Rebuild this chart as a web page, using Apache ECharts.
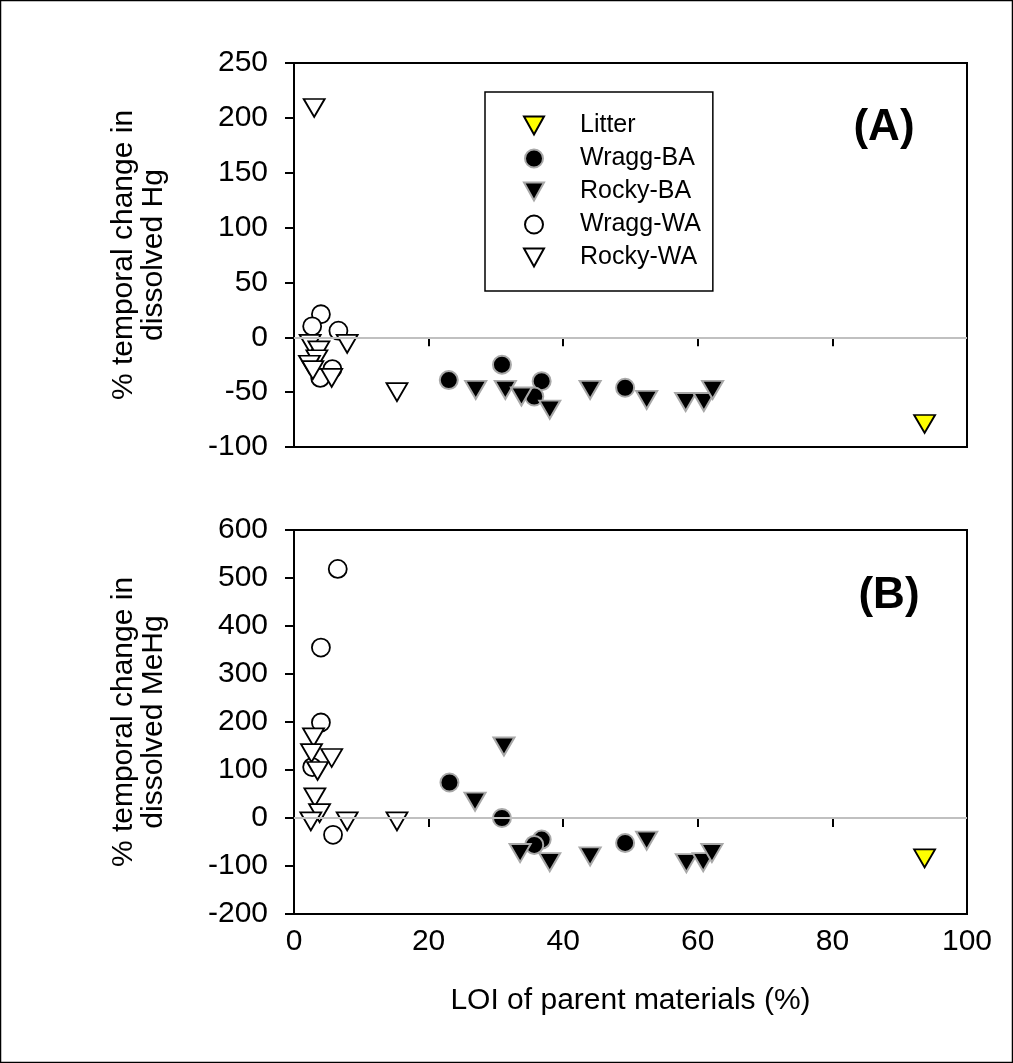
<!DOCTYPE html>
<html>
<head>
<meta charset="utf-8">
<script src="https://cdn.jsdelivr.net/npm/echarts@6/dist/echarts.min.js"></script>
<style>html,body{margin:0;padding:0;background:#fff;}#c{width:1013px;height:1063px;}</style>
</head>
<body>
<div id="c"></div>
<script>
// ---- data ----
const seriesNames = ['Litter', 'Wragg-BA', 'Rocky-BA', 'Wragg-WA', 'Rocky-WA'];
const xTicks = [0, 20, 40, 60, 80, 100];
const yTicksA = [-100, -50, 0, 50, 100, 150, 200, 250];
const yTicksB = [-200, -100, 0, 100, 200, 300, 400, 500, 600];

// Panel A: % temporal change in dissolved Hg  [LOI, change]
const litterA  = [[93.7, -79]];
const wraggBA_A = [[23, -39], [30.9, -25], [36.8, -40], [35.7, -54], [49.2, -46]];
const rockyBA_A = [[27, -48], [31.4, -48], [33.8, -54], [38, -66], [44, -48], [52.4, -57], [58.2, -59], [60.9, -59], [62.2, -48]];
const wraggWA_A = [[4, 21], [2.7, 10], [6.6, 6], [5.7, -29], [3.9, -37]];
const rockyWA_A = [[3, 209], [2.4, -6], [7.9, -6], [3.7, -12], [3.4, -20], [2.3, -25], [2.8, -30], [5.6, -37], [15.3, -50]];

// Panel B: % temporal change in dissolved MeHg
const litterB  = [[93.7, -84]];
const wraggBA_B = [[23.1, 74], [30.9, 0], [36.8, -45], [35.7, -56], [49.2, -52]];
const rockyBA_B = [[31.2, 149], [26.9, 34], [33.6, -73], [38, -92], [44, -80], [52.4, -47], [58.3, -94], [60.8, -92], [62.1, -73]];
const wraggWA_B = [[6.5, 519], [4, 355], [4, 199], [2.7, 106], [5.8, -35]];
const rockyWA_B = [[2.9, 168], [2.6, 135], [5.6, 125], [3.5, 98], [3.1, 43], [3.8, 10], [2.5, -7], [7.9, -7], [15.3, -7]];

// ---- styling ----
const FONT = '"Liberation Sans", Arial, sans-serif';
const DOWN_TRI = 'path://M0,0L20,0L10,18Z';
const styles = {
  'Litter':   {symbol: 'triangle', fill: '#ffff00', stroke: '#000', bw: 1.8},
  'Wragg-BA': {symbol: 'circle',   fill: '#000',    stroke: '#a8a8a8', bw: 2},
  'Rocky-BA': {symbol: 'triangle', fill: '#000',    stroke: '#a8a8a8', bw: 2},
  'Wragg-WA': {symbol: 'circle',   fill: '#fff',    stroke: '#000', bw: 1.8},
  'Rocky-WA': {symbol: 'triangle', fill: '#fff',    stroke: '#000', bw: 1.8}
};
function mk(name, data, idx) {
  const s = styles[name];
  const tri = s.symbol === 'triangle';
  return {
    type: 'scatter', name: name, xAxisIndex: idx, yAxisIndex: idx, data: data,
    symbol: s.symbol, symbolSize: tri ? [21, 18] : 18, symbolRotate: tri ? 180 : 0,
    itemStyle: {color: s.fill, borderColor: s.stroke, borderWidth: s.bw, opacity: 1},
    emphasis: {disabled: true}, z: 3
  };
}
function zeroLine(idx) {
  return {
    type: 'scatter', xAxisIndex: idx, yAxisIndex: idx, data: [], z: 1, silent: true,
    markLine: {silent: true, symbol: 'none', label: {show: false},
      lineStyle: {color: '#c0c0c0', width: 2, type: 'solid'}, data: [{yAxis: 0}]}
  };
}
function xAxis(idx, labels) {
  return {
    type: 'value', gridIndex: idx, min: xTicks[0], max: xTicks[xTicks.length - 1],
    interval: xTicks[1] - xTicks[0],
    axisLine: {lineStyle: {color: '#000', width: 2}},
    axisTick: {show: true, inside: false, length: 9, lineStyle: {color: '#000', width: 2}},
    axisLabel: {show: labels, color: '#000', fontSize: 30, fontFamily: FONT, margin: 13},
    splitLine: {show: false},
    name: labels ? 'LOI of parent materials (%)' : '', nameLocation: 'middle', nameGap: 72,
    nameTextStyle: {color: '#000', fontSize: 30, fontFamily: FONT}
  };
}
function yAxis(idx, ticks) {
  return {
    type: 'value', gridIndex: idx, min: ticks[0], max: ticks[ticks.length - 1],
    interval: ticks[1] - ticks[0],
    axisLine: {lineStyle: {color: '#000', width: 2}},
    axisTick: {show: true, inside: false, length: 9, lineStyle: {color: '#000', width: 2}},
    axisLabel: {color: '#000', fontSize: 30, fontFamily: FONT, margin: 26},
    splitLine: {show: false}
  };
}

const chart = echarts.init(document.getElementById('c'), null, {renderer: 'canvas'});
const series = [zeroLine(0), zeroLine(1),
  mk('Litter', litterA, 0), mk('Wragg-BA', wraggBA_A, 0), mk('Rocky-BA', rockyBA_A, 0),
  mk('Wragg-WA', wraggWA_A, 0), mk('Rocky-WA', rockyWA_A, 0),
  mk('Litter', litterB, 1), mk('Wragg-BA', wraggBA_B, 1), mk('Rocky-BA', rockyBA_B, 1),
  mk('Wragg-WA', wraggWA_B, 1), mk('Rocky-WA', rockyWA_B, 1)];

const legendData = seriesNames.map(n => styles[n].symbol === 'triangle'
  ? {name: n, icon: DOWN_TRI}
  : {name: n, icon: 'circle'});

chart.setOption({
  animation: false,
  backgroundColor: '#fff',
  grid: [
    {left: 294, top: 63, width: 673, height: 384, show: true, borderColor: '#000', borderWidth: 2, backgroundColor: 'transparent'},
    {left: 294, top: 530, width: 673, height: 384, show: true, borderColor: '#000', borderWidth: 2, backgroundColor: 'transparent'}
  ],
  xAxis: [xAxis(0, false), xAxis(1, true)],
  yAxis: [yAxis(0, yTicksA), yAxis(1, yTicksB)],
  legend: {
    data: legendData, orient: 'vertical', left: 485, top: 92,
    padding: [17, 12, 17, 38], itemGap: 0, itemWidth: 20, itemHeight: 18,
    borderColor: '#000', borderWidth: 1.5, backgroundColor: '#fff',
    textStyle: {color: '#000', fontSize: 25, fontFamily: FONT, lineHeight: 33, padding: [0, 0, 0, 31]},
    selectedMode: false
  },
  graphic: [
    {type: 'rect', shape: {x: 0.5, y: 0.5, width: 1012, height: 1062}, style: {fill: 'none', stroke: '#000', lineWidth: 1.5}, silent: true},
    {type: 'text', x: 139, y: 255, rotation: Math.PI / 2, silent: true,
      style: {text: '% temporal change in\ndissolved Hg', font: '30px ' + FONT, fill: '#000', textAlign: 'center', textVerticalAlign: 'middle', lineHeight: 30}},
    {type: 'text', x: 139, y: 722, rotation: Math.PI / 2, silent: true,
      style: {text: '% temporal change in\ndissolved MeHg', font: '30px ' + FONT, fill: '#000', textAlign: 'center', textVerticalAlign: 'middle', lineHeight: 30}},
    {type: 'text', x: 884, y: 128, silent: true,
      style: {text: '(A)', font: 'bold 44px ' + FONT, fill: '#000', textAlign: 'center', textVerticalAlign: 'middle'}},
    {type: 'text', x: 889, y: 596, silent: true,
      style: {text: '(B)', font: 'bold 44px ' + FONT, fill: '#000', textAlign: 'center', textVerticalAlign: 'middle'}}
  ],
  series: series
});
</script>
</body>
</html>
